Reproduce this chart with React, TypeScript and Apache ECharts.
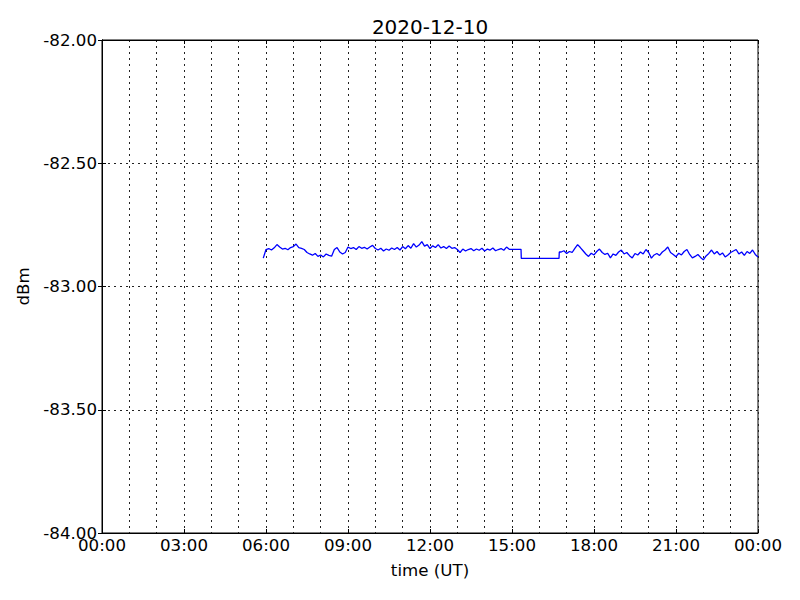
import React, { useEffect, useRef } from "react";
import * as echarts from "echarts";

const TITLE = "2020-12-10";
const X_NAME = "time (UT)";
const Y_NAME = "dBm";
const Y_TICKS = [-84, -83.5, -83, -82.5, -82];

// segment 1: samples every 0.1 h starting 5.9 h
const SEG1_START = 5.9;
const SEG1_STEP = 0.1;
const seg1Values = [
  -82.885, -82.85, -82.846, -82.852, -82.843, -82.83, -82.84, -82.848, -82.845, -82.851,
  -82.842, -82.838, -82.828, -82.842, -82.845, -82.85, -82.862, -82.868, -82.873, -82.866,
  -82.878, -82.872, -82.88, -82.868, -82.874, -82.877, -82.85, -82.842, -82.86, -82.868,
  -82.862, -82.84, -82.846, -82.842, -82.85, -82.838, -82.845, -82.841, -82.848, -82.84,
  -82.833, -82.846, -82.852, -82.845, -82.856, -82.848, -82.853, -82.844, -82.85, -82.842,
  -82.852, -82.838, -82.847, -82.834, -82.845, -82.826, -82.84, -82.832, -82.818, -82.836,
  -82.83, -82.846, -82.835, -82.842, -82.83, -82.844, -82.838, -82.846, -82.836, -82.845,
  -82.842, -82.85, -82.862, -82.848, -82.856, -82.85, -82.846, -82.855, -82.848, -82.853,
  -82.845, -82.856, -82.848, -82.852, -82.844, -82.855, -82.85, -82.846, -82.853, -82.84,
  -82.849,
];
// flat stretch where data were missing
const gapTimes = [15.33, 15.34, 16.72, 16.73];
const gapValues = [-82.849, -82.886, -82.886, -82.86];

// segment 2: samples every 0.1 h starting 16.8 h
const SEG2_START = 16.8;
const SEG2_STEP = 0.1;
const seg2Values = [
  -82.86, -82.855, -82.866, -82.858, -82.862, -82.845, -82.83, -82.842, -82.855, -82.868,
  -82.878, -82.865, -82.872, -82.858, -82.848, -82.862, -82.87, -82.865, -82.884, -82.868,
  -82.874, -82.86, -82.852, -82.868, -82.862, -82.875, -82.884, -82.866, -82.872, -82.86,
  -82.868, -82.85, -82.862, -82.885, -82.872, -82.866, -82.874, -82.86, -82.852, -82.84,
  -82.862, -82.87, -82.879, -82.865, -82.872, -82.858, -82.85, -82.87, -82.884, -82.878,
  -82.87, -82.882, -82.892, -82.876, -82.866, -82.852, -82.868, -82.858, -82.872, -82.864,
  -82.88, -82.872, -82.862, -82.856, -82.85, -82.868, -82.86, -82.874, -82.858, -82.866,
  -82.852, -82.87, -82.88,
];

const FONT = "DejaVu Sans";
const FS = 16.67;

function buildData(): [number, number][] {
  const out: [number, number][] = [];
  seg1Values.forEach((v, i) => out.push([+(SEG1_START + i * SEG1_STEP).toFixed(3), v]));
  gapValues.forEach((v, i) => out.push([gapTimes[i], v]));
  seg2Values.forEach((v, i) => out.push([+(SEG2_START + i * SEG2_STEP).toFixed(3), v]));
  return out;
}

const fmtTime = (v: number) => {
  const h = Math.round(v) % 24;
  return (h < 10 ? "0" : "") + h + ":00";
};

export default function App() {
  const ref = useRef<HTMLDivElement>(null);
  useEffect(() => {
    if (!ref.current) return;
    const chart = echarts.init(ref.current, undefined, { renderer: "svg" });
    const grid = { left: 102, right: 42, top: 40, bottom: 67, show: true, borderColor: "#000", borderWidth: 1, backgroundColor: "#fff" };
    const dotted = { color: "#222", width: 1, type: [2, 4] as number[] };
    const tick = { show: true, inside: true, length: 4, lineStyle: { color: "#000", width: 1 } };
    chart.setOption({
      animation: false,
      backgroundColor: "#fff",
      graphic: [
        {
          type: "text",
          x: 430,
          y: 27,
          style: { text: TITLE, fontFamily: FONT, fontSize: 20, fill: "#000", textAlign: "center", textVerticalAlign: "middle" },
        },
      ],
      grid,
      xAxis: [
        {
          type: "value",
          min: 0,
          max: 24,
          interval: 3,
          name: X_NAME,
          nameLocation: "middle",
          nameGap: 29,
          nameTextStyle: { fontFamily: FONT, fontSize: FS, color: "#000" },
          axisLine: { show: true, lineStyle: { color: "#000", width: 1 } },
          axisTick: tick,
          axisLabel: { formatter: fmtTime, fontFamily: FONT, fontSize: FS, color: "#000", margin: 4 },
          splitLine: { show: true, lineStyle: dotted },
          minorTick: { show: false, splitNumber: 3 },
          minorSplitLine: { show: true, lineStyle: dotted },
        },
        {
          type: "value",
          position: "top",
          min: 0,
          max: 24,
          interval: 3,
          axisLine: { show: true, lineStyle: { color: "#000", width: 1 } },
          axisTick: tick,
          axisLabel: { show: false },
          splitLine: { show: false },
        },
      ],
      yAxis: [
        {
          type: "value",
          min: Y_TICKS[0],
          max: Y_TICKS[Y_TICKS.length - 1],
          interval: 0.5,
          name: Y_NAME,
          nameLocation: "middle",
          nameGap: 66,
          nameTextStyle: { fontFamily: FONT, fontSize: FS, color: "#000" },
          axisLine: { show: true, lineStyle: { color: "#000", width: 1 } },
          axisTick: tick,
          axisLabel: { formatter: (v: number) => v.toFixed(2), fontFamily: FONT, fontSize: FS, color: "#000", margin: 5 },
          splitLine: { show: true, lineStyle: dotted },
        },
        {
          type: "value",
          position: "right",
          min: Y_TICKS[0],
          max: Y_TICKS[Y_TICKS.length - 1],
          interval: 0.5,
          axisLine: { show: true, lineStyle: { color: "#000", width: 1 } },
          axisTick: tick,
          axisLabel: { show: false },
          splitLine: { show: false },
        },
      ],
      series: [
        {
          type: "line",
          data: buildData(),
          showSymbol: false,
          symbol: "none",
          lineStyle: { color: "#0000ff", width: 1.3 },
          z: 5,
        },
      ],
    });
    return () => chart.dispose();
  }, []);
  return <div ref={ref} style={{ position: "fixed", left: 0, top: 0, width: 800, height: 600 }} />;
}
